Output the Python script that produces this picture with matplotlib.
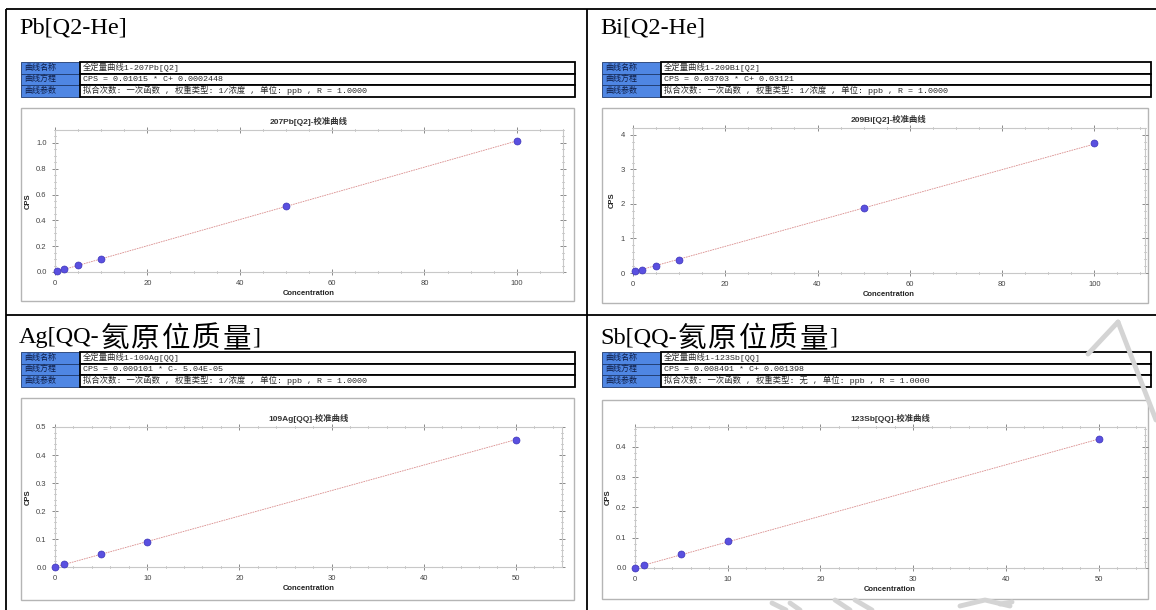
import re
import matplotlib
matplotlib.use("Agg")
import matplotlib.pyplot as plt
from matplotlib.patches import Rectangle
from matplotlib.ticker import MultipleLocator
import numpy as np

W, H = 1156, 610

# calibration data for each element
pb_conc = [0.5, 2, 5, 10, 50, 100]
pb_cps = [0.005, 0.021, 0.051, 0.102, 0.508, 1.015]
bi_conc = [0.5, 2, 5, 10, 50, 100]
bi_cps = [0.05, 0.09, 0.20, 0.37, 1.87, 3.77]
ag_conc = [0, 1, 5, 10, 50]
ag_cps = [0.0, 0.009, 0.046, 0.090, 0.455]
sb_conc = [0, 1, 5, 10, 50]
sb_cps = [0.001, 0.010, 0.046, 0.088, 0.425]

# fitted line coefficients (slope, intercept)
pb_fit = (0.01015, 0.0002448)
bi_fit = (0.03703, 0.03121)
ag_fit = (0.009101, -5.04e-05)
sb_fit = (0.008491, 0.001398)

titles = ["Pb[Q2-He]", "Bi[Q2-He]", "Ag[QQ-氦原位质量]", "Sb[QQ-氦原位质量]"]
plot_titles = ["207Pb[Q2]-校准曲线", "209Bi[Q2]-校准曲线",
               "109Ag[QQ]-校准曲线", "123Sb[QQ]-校准曲线"]
row_labels = ["曲线名称", "曲线方程", "曲线参数"]
curve_names = ["全定量曲线1-207Pb[Q2]", "全定量曲线1-209Bi[Q2]",
               "全定量曲线1-109Ag[QQ]", "全定量曲线1-123Sb[QQ]"]
equations = ["CPS = 0.01015 * C+ 0.0002448", "CPS = 0.03703 * C+ 0.03121",
             "CPS = 0.009101 * C- 5.04E-05", "CPS = 0.008491 * C+ 0.001398"]
params = ["拟合次数: 一次函数 , 权重类型: 1/浓度 , 单位: ppb , R = 1.0000",
          "拟合次数: 一次函数 , 权重类型: 1/浓度 , 单位: ppb , R = 1.0000",
          "拟合次数: 一次函数 , 权重类型: 1/浓度 , 单位: ppb , R = 1.0000",
          "拟合次数: 一次函数 , 权重类型: 无 , 单位: ppb , R = 1.0000"]

SERIF = ["Liberation Serif", "Noto Sans CJK SC"]
SANS = ["Liberation Sans", "Noto Sans CJK SC"]
MONO = ["Liberation Mono", "Noto Sans CJK SC"]
CJK = ["Noto Sans CJK SC"]

fig = plt.figure(figsize=(W / 100, H / 100), dpi=100)
bg = fig.add_axes([0, 0, 1, 1])
bg.set_xlim(0, W)
bg.set_ylim(H, 0)
bg.axis("off")
renderer = fig.canvas.get_renderer()


def px_box(x0, y0, x1, y1):
    return [x0 / W, 1 - y1 / H, (x1 - x0) / W, (y1 - y0) / H]


def draw_title(x, y, s):
    # latin runs in serif, each CJK glyph on a wider pitch
    for run in re.findall(r"[\u4e00-\u9fff]+|[^\u4e00-\u9fff]+", s):
        if re.match(r"[\u4e00-\u9fff]", run):
            for ch in run:
                bg.text(x + 1, y + 1, ch, fontsize=20.5, family=CJK,
                        va="center", ha="left")
                x += 30.5
        else:
            t = bg.text(x, y, run, fontsize=17.5, family=SERIF,
                        va="center", ha="left")
            x = t.get_window_extent(renderer).x1


# outer table grid
for xs, ys in [((6, W), (9, 9)), ((6, W), (315, 315)),
               ((6, 6), (9, H)), ((587, 587), (9, H))]:
    bg.plot(xs, ys, color="black", lw=1.3, solid_capstyle="butt")

# faint watermark strokes
wm = "#d4d4d4"
for xs, ys in [((1088, 1118), (354, 322)), ((1118, 1156), (322, 420)),
               ((772, 786), (603, 610)), ((790, 800), (603, 610)),
               ((835, 850), (600, 610)), ((855, 872), (600, 610)),
               ((960, 985, 1010), (606, 600, 606)), ((1000, 1012), (604, 602))]:
    bg.plot(xs, ys, color=wm, lw=3.5, solid_capstyle="round")

cells = [
    # title pos, table box, plot box, axes box
    dict(tx=19, ty=28, tb=(21, 62, 575), pb=(21, 108, 574, 301), ax=(55, 130, 563, 272)),
    dict(tx=600, ty=28, tb=(602, 62, 1151), pb=(602, 108, 1148, 303), ax=(633, 128, 1145, 273)),
    dict(tx=19, ty=338, tb=(21, 352, 575), pb=(21, 398, 574, 600), ax=(55, 427, 562, 567)),
    dict(tx=600, ty=338, tb=(602, 352, 1151), pb=(602, 400, 1148, 599), ax=(635, 427, 1145, 568)),
]

series = [
    (pb_conc, pb_cps, pb_fit, (0, 110), (0, 1.1), 20, 5, 0.2, 0.05),
    (bi_conc, bi_cps, bi_fit, (0, 111), (0, 4.2), 20, 5, 1, 0.2),
    (ag_conc, ag_cps, ag_fit, (0, 55), (0, 0.5), 10, 2, 0.1, 0.02),
    (sb_conc, sb_cps, sb_fit, (0, 55), (0, 0.466), 10, 2, 0.1, 0.02),
]

row_h = 11.5
label_w = 59

for i, c in enumerate(cells):
    draw_title(c["tx"], c["ty"], titles[i])

    # info table
    x0, y0, x1 = c["tb"]
    texts = [curve_names[i], equations[i], params[i]]
    for r in range(3):
        yy = y0 + r * row_h
        bg.add_patch(Rectangle((x0, yy), label_w, row_h, facecolor="#4f86e3",
                               edgecolor="#1f3a6e", lw=0.6))
        bg.add_patch(Rectangle((x0 + label_w, yy), x1 - x0 - label_w, row_h,
                               facecolor="white", edgecolor="black", lw=1.3))
        bg.text(x0 + 3, yy + row_h / 2, row_labels[r], fontsize=5.8,
                family=SANS, color="#10204a", va="center")
        bg.text(x0 + label_w + 3, yy + row_h / 2, texts[r], fontsize=6.0,
                family=MONO, color="#2a2a2a", va="center")

    # plot frame
    px0, py0, px1, py1 = c["pb"]
    bg.add_patch(Rectangle((px0, py0), px1 - px0, py1 - py0, facecolor="white",
                           edgecolor="#b5b5b5", lw=1.0))

    conc, cps, fit, xl, yl, xmaj, xmin, ymaj, ymin = series[i]
    ax = fig.add_axes(px_box(*c["ax"]))
    xs = np.array([0, max(conc)])
    ax.plot(xs, fit[0] * xs + fit[1], color="#d98c8c", lw=0.6, ls=(0, (2, 1)), zorder=2)
    ax.plot(conc, cps, "o", ms=5, color="#5a50e0", mec="#3b33b8", mew=0.5,
            zorder=3, clip_on=False)
    ax.set_xlim(*xl)
    ax.set_ylim(*yl)
    ax.xaxis.set_major_locator(MultipleLocator(xmaj))
    ax.xaxis.set_minor_locator(MultipleLocator(xmin))
    ax.yaxis.set_major_locator(MultipleLocator(ymaj))
    ax.yaxis.set_minor_locator(MultipleLocator(ymin))
    if ymaj < 1:
        ax.yaxis.set_major_formatter(plt.FormatStrFormatter("%.1f"))
    for s in ax.spines.values():
        s.set_color("#c8c8c8")
        s.set_linewidth(0.8)
    ax.tick_params(which="both", direction="inout", colors="#777777",
                   top=True, right=True, labelsize=5.5, labelcolor="#444444",
                   pad=4)
    ax.tick_params(which="major", length=4, width=0.6)
    ax.tick_params(which="minor", length=2, width=0.5)
    for lab in ax.get_xticklabels() + ax.get_yticklabels():
        lab.set_family(SANS)
    ax.set_title(plot_titles[i], fontsize=6, fontweight="bold", family=SANS,
                 color="#333333", pad=4)
    ax.set_xlabel("Concentration", fontsize=5.5, fontweight="bold",
                  family=SANS, color="#222222", labelpad=2)
    ax.set_ylabel("CPS", fontsize=5.5, fontweight="bold", family=SANS,
                  color="#222222", labelpad=3)

fig.savefig("out.png", dpi=100)
